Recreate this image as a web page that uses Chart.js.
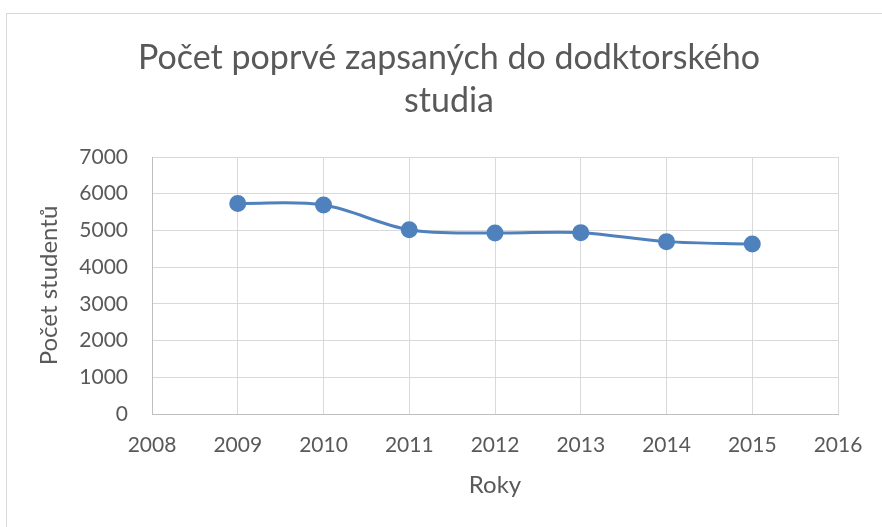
<!DOCTYPE html>
<html>
<head>
<meta charset="utf-8">
<script src="https://cdn.jsdelivr.net/npm/chart.js@4"></script>
<style>
  html, body { margin: 0; padding: 0; background: #fff; }
  #wrap { width: 882px; height: 527px; }
</style>
</head>
<body>
<div id="wrap"><canvas id="graf"></canvas></div>
<script>
// data
var roky = [2009, 2010, 2011, 2012, 2013, 2014, 2015];
var pocetStudentu = [5735, 5690, 5020, 4930, 4940, 4695, 4630];
var nadpis = ['Počet poprvé zapsaných do dodktorského', 'studia'];
var popisX = 'Roky';
var popisY = 'Počet studentů';

var pismo = 'Lato, "Open Sans", sans-serif';
var seda = '#595959';

var body = roky.map(function (rok, i) {
    return { x: rok, y: pocetStudentu[i] };
});

// frame round the chart and the two-line title, like the Excel chart area
var ramecek = {
    id: 'ramecek',
    beforeDraw: function (chart) {
        var ctx = chart.ctx;
        ctx.save();
        ctx.fillStyle = '#fff';
        ctx.fillRect(0, 0, chart.width, chart.height);
        ctx.strokeStyle = '#d9d9d9';
        ctx.lineWidth = 1;
        ctx.strokeRect(6.5, 13.5, chart.width + 10, chart.height + 10);

        ctx.fillStyle = seda;
        ctx.font = '34px ' + pismo;
        ctx.textAlign = 'center';
        ctx.textBaseline = 'alphabetic';
        nadpis.forEach(function (radek, i) {
            ctx.fillText(radek, 449, 69 + i * 43);
        });
        ctx.restore();
    }
};

var ctx = document.getElementById('graf').getContext('2d');
var myChart = new Chart(ctx, {
    type: 'scatter',
    data: {
        datasets: [{
            label: popisY,
            data: body,
            showLine: true,
            borderColor: '#4f81bd',
            backgroundColor: '#4f81bd',
            borderWidth: 3,
            pointRadius: 7,
            pointHoverRadius: 7,
            tension: 0.35,
            fill: false
        }]
    },
    options: {
        responsive: true,
        maintainAspectRatio: false,
        animation: false,
        layout: {
            padding: { top: 157, left: 20, right: 44, bottom: 20 }
        },
        scales: {
            x: {
                type: 'linear',
                min: 2008,
                max: 2016,
                afterFit: function (scale) { scale.height = 527 - 414 - 20; },
                ticks: {
                    stepSize: 1,
                    padding: 19,
                    color: seda,
                    font: { family: pismo, size: 21 },
                    callback: function (v) { return String(v); }
                },
                grid: { color: '#d9d9d9', drawTicks: false },
                border: { color: '#bfbfbf' },
                title: {
                    display: true,
                    text: popisX,
                    color: seda,
                    font: { family: pismo, size: 24 },
                    padding: { top: 0, bottom: 7 }
                }
            },
            y: {
                min: 0,
                max: 7000,
                afterFit: function (scale) { scale.width = 152 - 20; },
                ticks: {
                    stepSize: 1000,
                    padding: 24,
                    color: seda,
                    font: { family: pismo, size: 21 },
                    callback: function (v) { return String(v); }
                },
                grid: { color: '#d9d9d9', drawTicks: false },
                border: { color: '#bfbfbf' },
                title: {
                    display: true,
                    text: popisY,
                    color: seda,
                    font: { family: pismo, size: 24 },
                    padding: { top: 15, bottom: 0 }
                }
            }
        },
        plugins: {
            legend: { display: false },
            tooltip: { enabled: false },
            title: { display: false }
        }
    },
    plugins: [ramecek]
});
</script>
</body>
</html>
